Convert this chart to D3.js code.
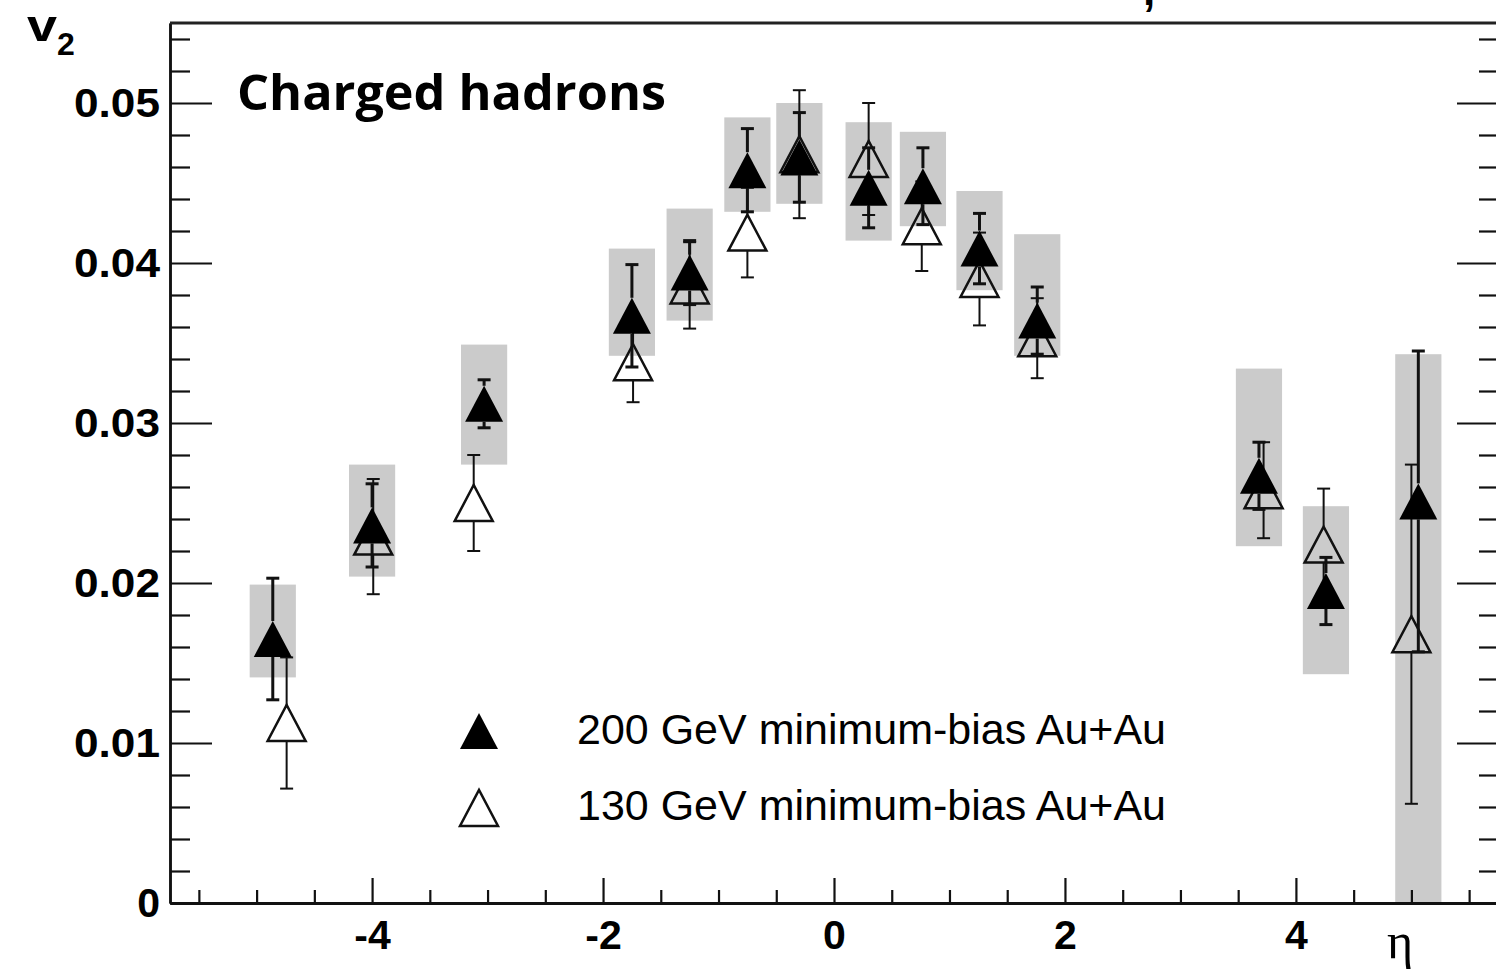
<!DOCTYPE html>
<html>
<head>
<meta charset="utf-8">
<script src="https://cdn.jsdelivr.net/npm/d3@7/dist/d3.min.js"></script>
<style>
  html, body { margin: 0; padding: 0; background: #ffffff; }
  svg { display: block; }
</style>
</head>
<body>
<svg id="chart" width="1496" height="976"></svg>
<script>
// ---- data ----
// 200 GeV minimum-bias Au+Au (filled triangles, grey systematic boxes)
const eta200   = [-4.86, -4.00, -3.03, -1.75, -1.25, -0.75, -0.30, 0.30, 0.77, 1.26, 1.76, 3.68, 4.26, 5.06];
const v2_200   = [0.0165, 0.0236, 0.0312, 0.0367, 0.0394, 0.0458, 0.0466, 0.0447, 0.0448, 0.0409, 0.0364, 0.0267, 0.0195, 0.0251];
const stat200  = [0.0038, 0.0026, 0.0015, 0.0032, 0.0020, 0.0026, 0.0028, 0.0025, 0.0024, 0.0022, 0.0021, 0.0021, 0.0021, 0.0094];
const sysLo200 = [0.0141, 0.0204, 0.0274, 0.0342, 0.0364, 0.0432, 0.0437, 0.0414, 0.0423, 0.0383, 0.0342, 0.0223, 0.0143, 0.0000];
const sysHi200 = [0.0199, 0.0274, 0.0349, 0.0409, 0.0434, 0.0491, 0.0500, 0.0488, 0.0482, 0.0445, 0.0418, 0.0334, 0.0248, 0.0343];
// 130 GeV minimum-bias Au+Au (open triangles)
const eta130   = [-4.74, -3.99, -3.12, -1.74, -1.25, -0.75, -0.30, 0.30, 0.76, 1.26, 1.76, 3.72, 4.24, 5.00];
const v2_130   = [0.01125, 0.0229, 0.0250, 0.0338, 0.0386, 0.0419, 0.0468, 0.0465, 0.0423, 0.0390, 0.0353, 0.0258, 0.0224, 0.0168];
const stat130  = [0.0041, 0.0036, 0.0030, 0.0025, 0.0027, 0.0028, 0.0040, 0.0035, 0.0028, 0.0029, 0.0025, 0.0030, 0.0035, 0.0106];
const sysHalfWidth = 0.2; // eta half-width of systematic boxes

// axis ticks
const yMajor = [0, 0.01, 0.02, 0.03, 0.04, 0.05];
const yMinor = d3.range(0, 0.0551, 0.002).filter(v => yMajor.every(m => Math.abs(m - v) > 1e-6));
const xMajor = [-4, -2, 0, 2, 4];
const xMinor = d3.range(-5.5, 5.51, 0.5).filter(v => xMajor.every(m => Math.abs(m - v) > 1e-6));

const legendLabels = ["200 GeV minimum-bias Au+Au", "130 GeV minimum-bias Au+Au"];

// ---- layout ----
const L = 170, R = 1498, T = 23, B = 903;
const svg = d3.select("#chart");
const x = d3.scaleLinear().domain([-5.75, 5.75]).range([L, R]);
const y = d3.scaleLinear().domain([0, 0.055]).range([B, T]);

const tickFont = "'Liberation Sans', Arial, Helvetica, sans-serif";

// grey systematic boxes
svg.append("g").selectAll("rect").data(eta200).join("rect")
  .attr("x", d => x(d - sysHalfWidth))
  .attr("width", d => x(d + sysHalfWidth) - x(d - sysHalfWidth))
  .attr("y", (d, i) => y(sysHi200[i]))
  .attr("height", (d, i) => y(sysLo200[i]) - y(sysHi200[i]))
  .attr("fill", "#cbcbcb");

// ---- axes ----
function styleAxis(g, w) {
  g.selectAll("path.domain").attr("stroke", "#111").attr("stroke-width", w);
  g.selectAll(".tick line").attr("stroke", "#111").attr("stroke-width", 2.2);
}
// left
const gL = svg.append("g").attr("transform", `translate(${L},0)`)
  .call(d3.axisLeft(y).tickValues(yMajor).tickSizeInner(-42).tickSizeOuter(0).tickPadding(10)
    .tickFormat(d => d === 0 ? "0" : d3.format(".2f")(d)));
styleAxis(gL, 2.5);
gL.selectAll("text").attr("font-family", tickFont).attr("font-weight", "bold").attr("font-size", 41).attr("fill", "#000")
  .each(function (d) { if (d !== 0) d3.select(this).attr("textLength", 86).attr("lengthAdjust", "spacingAndGlyphs"); });
const gLm = svg.append("g").attr("transform", `translate(${L},0)`)
  .call(d3.axisLeft(y).tickValues(yMinor).tickSizeInner(-20).tickSizeOuter(0).tickFormat(""));
styleAxis(gLm, 2.5);
// right
const gR = svg.append("g").attr("transform", `translate(${R},0)`)
  .call(d3.axisRight(y).tickValues(yMajor).tickSizeInner(-41).tickSizeOuter(0).tickFormat(""));
styleAxis(gR, 2.5);
const gRm = svg.append("g").attr("transform", `translate(${R},0)`)
  .call(d3.axisRight(y).tickValues(yMinor).tickSizeInner(-19).tickSizeOuter(0).tickFormat(""));
styleAxis(gRm, 2.5);
// bottom
const gB = svg.append("g").attr("transform", `translate(0,${B})`)
  .call(d3.axisBottom(x).tickValues(xMajor).tickSizeInner(-25).tickSizeOuter(0).tickPadding(17)
    .tickFormat(d => String(d)));
styleAxis(gB, 3);
gB.selectAll("text").attr("font-family", tickFont).attr("font-weight", "bold").attr("font-size", 41).attr("fill", "#000");
const gBm = svg.append("g").attr("transform", `translate(0,${B})`)
  .call(d3.axisBottom(x).tickValues(xMinor).tickSizeInner(-13).tickSizeOuter(0).tickFormat(""));
styleAxis(gBm, 3);
// top frame
svg.append("line").attr("x1", L).attr("x2", R).attr("y1", T).attr("y2", T)
  .attr("stroke", "#222").attr("stroke-width", 3);

// ---- markers & error bars ----
const TW = 19, TH = 18, CAP = 6.5;
const tri = (cx, cy) => `M${cx - TW},${cy + TH}L${cx + TW},${cy + TH}L${cx},${cy - TH}Z`;

function errorBars(g, etas, vals, errs, sw) {
  etas.forEach((e, i) => {
    const cx = x(e), cy = y(vals[i]);
    const yt = y(vals[i] + errs[i]), yb = y(vals[i] - errs[i]);
    if (cy - TH - yt > 0) g.append("line").attr("x1", cx).attr("x2", cx).attr("y1", yt).attr("y2", cy - TH);
    if (yb - (cy + TH) > 0) g.append("line").attr("x1", cx).attr("x2", cx).attr("y1", cy + TH).attr("y2", yb);
    g.append("line").attr("x1", cx - CAP).attr("x2", cx + CAP).attr("y1", yt).attr("y2", yt);
    g.append("line").attr("x1", cx - CAP).attr("x2", cx + CAP).attr("y1", yb).attr("y2", yb);
  });
  g.attr("stroke", "#111").attr("stroke-width", sw);
}

// open (130 GeV)
errorBars(svg.append("g"), eta130, v2_130, stat130, 2);
svg.append("g").selectAll("path").data(eta130).join("path")
  .attr("d", (d, i) => tri(x(d), y(v2_130[i])))
  .attr("fill", "none").attr("stroke", "#111").attr("stroke-width", 2.5);

// filled (200 GeV)
errorBars(svg.append("g"), eta200, v2_200, stat200, 3);
svg.append("g").selectAll("path").data(eta200).join("path")
  .attr("d", (d, i) => tri(x(d), y(v2_200[i])))
  .attr("fill", "#000");

// ---- legend ----
const leg = svg.append("g");
leg.append("path").attr("d", tri(479, 731)).attr("fill", "#000");
leg.append("path").attr("d", tri(479, 808)).attr("fill", "none").attr("stroke", "#111").attr("stroke-width", 2.5);
leg.selectAll("text").data(legendLabels).join("text")
  .attr("x", 577).attr("y", (d, i) => i === 0 ? 744 : 820)
  .attr("font-family", tickFont).attr("font-size", 42).attr("fill", "#000")
  .attr("textLength", 589).attr("lengthAdjust", "spacingAndGlyphs")
  .text(d => d);

// ---- titles ----
svg.append("text").attr("x", 237).attr("y", 110)
  .attr("font-family", "'Open Sans', 'Noto Sans', sans-serif").attr("font-weight", 700)
  .attr("font-size", 49).attr("textLength", 429).attr("lengthAdjust", "spacingAndGlyphs")
  .attr("fill", "#000").text("Charged hadrons");

const v2lab = svg.append("text").attr("x", 27).attr("y", 41)
  .attr("font-family", tickFont).attr("font-weight", "bold").attr("font-size", 44).attr("fill", "#000");
v2lab.append("tspan").attr("textLength", 30).attr("lengthAdjust", "spacingAndGlyphs").text("v");
v2lab.append("tspan").attr("font-size", 32).attr("dy", 14).text("2");

svg.append("text").attr("x", 1400).attr("y", 958).attr("text-anchor", "middle")
  .attr("font-family", "'Liberation Serif', 'DejaVu Serif', serif").attr("font-size", 50)
  .attr("fill", "#000").text("η");

// cropped title fragment at the very top (the reference shows only its lowest part)
svg.append("text").attr("x", 1143).attr("y", 5)
  .attr("font-family", tickFont).attr("font-weight", "bold").attr("font-size", 44)
  .attr("fill", "#000").text(",");
</script>
</body>
</html>
